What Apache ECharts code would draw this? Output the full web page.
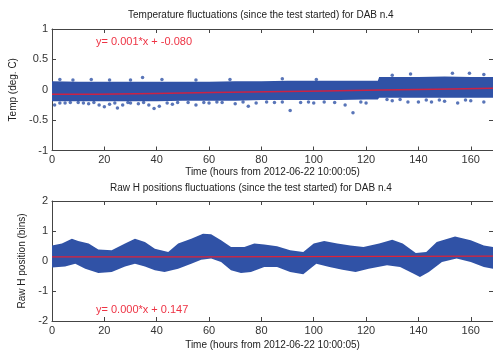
<!DOCTYPE html>
<html>
<head>
<meta charset="utf-8">
<script src="https://cdn.jsdelivr.net/npm/echarts@6/dist/echarts.min.js"></script>
<style>
  html, body { margin: 0; padding: 0; background: #fff; }
  #chart { width: 493px; height: 351px; }
</style>
</head>
<body>
<div id="chart"></div>
<script>
  // temperature band (dense part of the scatter)
  var tempBandX = [0, 10, 20, 30, 40, 50, 60, 70, 80, 90, 100, 110, 120, 124.5, 125, 130, 140, 150, 160, 168.5]
  var tempBandUpper = [0.14, 0.13, 0.13, 0.13, 0.13, 0.13, 0.13, 0.14, 0.14, 0.15, 0.15, 0.15, 0.15, 0.15, 0.21, 0.21, 0.21, 0.22, 0.21, 0.21]
  var tempBandLower = [-0.19, -0.19, -0.19, -0.19, -0.19, -0.18, -0.18, -0.18, -0.17, -0.17, -0.17, -0.17, -0.16, -0.16, -0.13, -0.13, -0.13, -0.13, -0.13, -0.13]
  var tempOutliers = [
    [1, -0.25], [3, -0.22], [5, -0.22], [7, -0.21], [10, -0.21], [12, -0.22], [14, -0.23],
    [16, -0.21], [18, -0.25], [20, -0.28], [22, -0.24], [24, -0.22], [25, -0.30], [27, -0.25],
    [29, -0.21], [30, -0.22], [33, -0.23], [35, -0.21], [37, -0.25], [39, -0.31], [41, -0.27],
    [44, -0.22], [46, -0.24], [48, -0.21], [52, -0.21], [55, -0.25], [58, -0.21], [60, -0.22],
    [63, -0.20], [65, -0.21], [70, -0.23], [73, -0.20], [75, -0.27], [78, -0.22], [82, -0.20],
    [85, -0.21], [88, -0.20], [91, -0.34], [95, -0.21], [98, -0.20], [100, -0.22], [104, -0.20],
    [108, -0.21], [112, -0.25], [115, -0.38], [118, -0.20], [120, -0.22], [128, -0.16],
    [130, -0.18], [133, -0.16], [136, -0.20], [140, -0.20], [143, -0.17], [145, -0.20],
    [148, -0.17], [150, -0.19], [155, -0.22], [158, -0.17], [160, -0.18], [165, -0.20],
    [3, 0.17], [8, 0.16], [15, 0.17], [22, 0.16], [30, 0.16], [34.6, 0.20], [42, 0.17],
    [55, 0.16], [68, 0.17], [88, 0.18], [101, 0.17], [130, 0.24], [137, 0.26], [153, 0.27],
    [159.5, 0.27], [165, 0.25]
  ]
  var tempFitX = [0, 17.6, 39.3, 60.8, 82, 104, 125.4, 146.4, 168.5]
  var tempFitY = [-0.075, -0.061, -0.047, -0.033, -0.019, -0.005, 0.009, 0.023, 0.023]

  // raw H position band
  var posUpperX = [0, 3.8, 7.6, 10, 14, 17.7, 22.8, 27.9, 31.7, 35.5, 39.3, 44.4, 48.2, 53.2, 57.7, 60.8, 64.6, 68.4, 73.5, 77.3, 81.1, 86, 91, 96, 100, 104, 109, 114, 119, 125, 130, 134, 139, 143, 147, 154, 160, 165, 168.5]
  var posUpper = [0.52, 0.58, 0.74, 0.67, 0.58, 0.38, 0.36, 0.58, 0.74, 0.63, 0.41, 0.30, 0.58, 0.74, 0.91, 0.89, 0.69, 0.47, 0.47, 0.58, 0.55, 0.49, 0.36, 0.30, 0.58, 0.67, 0.58, 0.52, 0.47, 0.58, 0.71, 0.58, 0.27, 0.30, 0.63, 0.82, 0.69, 0.52, 0.47]
  var posLowerX = [0, 5, 8.9, 12.7, 17.7, 22.8, 27.9, 31.7, 35.5, 39.3, 43, 48.2, 53.2, 57, 60.8, 64.6, 68.4, 72.2, 76, 81.1, 86, 91, 96, 101, 106, 111, 116, 121, 128, 133, 138, 140.6, 144, 149, 154.6, 160, 165, 168.5]
  var posLower = [-0.22, -0.18, -0.09, -0.26, -0.40, -0.37, -0.18, -0.09, -0.18, -0.31, -0.37, -0.26, -0.09, 0.04, 0.08, -0.03, -0.31, -0.40, -0.37, -0.20, -0.20, -0.37, -0.44, -0.09, -0.20, -0.29, -0.37, -0.26, -0.14, -0.20, -0.42, -0.53, -0.37, -0.03, 0.08, -0.03, -0.20, -0.26]
  var posFitX = [0, 56, 168.5]
  var posFitY = [0.135, 0.16, 0.16]

  var blue = '#3052a6'
  var red = '#dd2238'
  var font = 'Liberation Sans, Arial, sans-serif'

  function pairs(xs, ys) {
    return xs.map(function (x, i) { return [x, ys[i]] })
  }

  function band(axisIndex, ux, uy, lx, ly) {
    return {
      type: 'custom',
      xAxisIndex: axisIndex * 2,
      yAxisIndex: axisIndex * 2,
      silent: true,
      clip: true,
      data: [[0, 0]],
      renderItem: function (params, api) {
        var pts = []
        for (var i = 0; i < ux.length; i++) pts.push(api.coord([ux[i], uy[i]]))
        for (var j = lx.length - 1; j >= 0; j--) pts.push(api.coord([lx[j], ly[j]]))
        return { type: 'polygon', shape: { points: pts }, style: { fill: blue } }
      }
    }
  }

  function xAxis(grid, pos, name, gap) {
    return {
      type: 'value', gridIndex: grid, position: pos, min: 0, max: 168.5, interval: 20,
      name: name, nameLocation: 'middle', nameGap: gap,
      nameTextStyle: { fontFamily: font, fontSize: 10, color: '#222' },
      axisLine: { show: true, onZero: false, lineStyle: { color: '#444', width: 1 } },
      axisTick: { show: true, inside: true, length: 4, lineStyle: { color: '#444' } },
      axisLabel: { show: pos === 'bottom', margin: 4, fontFamily: font, fontSize: 11, color: '#333',
        showMaxLabel: false },
      splitLine: { show: false }
    }
  }

  function yAxis(grid, pos, min, max, interval, name, gap) {
    return {
      type: 'value', gridIndex: grid, position: pos, min: min, max: max, interval: interval,
      name: name, nameLocation: 'middle', nameGap: gap,
      nameTextStyle: { fontFamily: font, fontSize: 10, color: '#222' },
      axisLine: { show: true, onZero: false, lineStyle: { color: '#444', width: 1 } },
      axisTick: { show: true, inside: true, length: 4, lineStyle: { color: '#444' } },
      axisLabel: { show: pos === 'left', margin: 4, fontFamily: font, fontSize: 11, color: '#333' },
      splitLine: { show: false }
    }
  }

  var chart = echarts.init(document.getElementById('chart'))
  var timeName = 'Time (hours from 2012-06-22 10:00:05)'
  chart.setOption({
    animation: false,
    backgroundColor: '#fff',
    grid: [
      { left: 52, right: -2, top: 29, height: 121.5 },
      { left: 52, right: -2, top: 201, height: 120 }
    ],
    xAxis: [
      xAxis(0, 'bottom', timeName, 17), xAxis(0, 'top', '', 0),
      xAxis(1, 'bottom', timeName, 19), xAxis(1, 'top', '', 0)
    ],
    yAxis: [
      yAxis(0, 'left', -1, 1, 0.5, 'Temp (deg. C)', 30), yAxis(0, 'right', -1, 1, 0.5, '', 0),
      yAxis(1, 'left', -2, 2, 1, 'Raw H position (bins)', 14), yAxis(1, 'right', -2, 2, 1, '', 0)
    ],
    graphic: [
      { type: 'text', left: 128, top: 10, style: { text: 'Temperature fluctuations (since the test started) for DAB n.4', font: '10px ' + font, fill: '#222' } },
      { type: 'text', left: 110, top: 183, style: { text: 'Raw H positions fluctuations (since the test started) for DAB n.4', font: '10px ' + font, fill: '#222' } },
      { type: 'text', left: 96, top: 36, style: { text: 'y= 0.001*x + -0.080', font: '11px ' + font, fill: '#ee3344' } },
      { type: 'text', left: 96, top: 304, style: { text: 'y= 0.000*x + 0.147', font: '11px ' + font, fill: '#ee3344' } }
    ],
    series: [
      band(0, tempBandX, tempBandUpper, tempBandX, tempBandLower),
      {
        type: 'scatter', xAxisIndex: 0, yAxisIndex: 0, symbolSize: 3.5,
        itemStyle: { color: blue }, data: tempOutliers, silent: true
      },
      {
        type: 'line', xAxisIndex: 0, yAxisIndex: 0, step: 'end', showSymbol: false,
        lineStyle: { color: '#cc2244', width: 1.5 }, data: pairs(tempFitX, tempFitY), silent: true
      },
      band(1, posUpperX, posUpper, posLowerX, posLower),
      {
        type: 'line', xAxisIndex: 2, yAxisIndex: 2, step: 'end', showSymbol: false,
        lineStyle: { color: red, width: 1.2 }, data: pairs(posFitX, posFitY), silent: true
      }
    ]
  })
</script>
</body>
</html>
